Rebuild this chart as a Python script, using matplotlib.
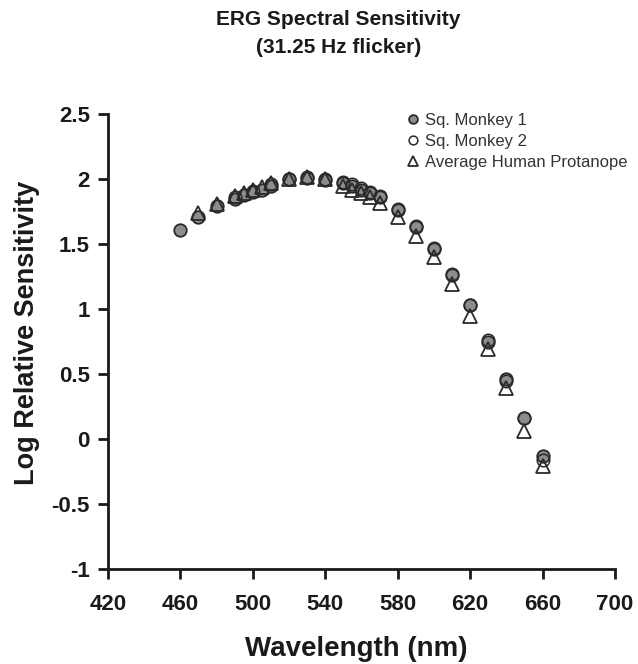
import matplotlib
matplotlib.use("Agg")
import matplotlib.pyplot as plt

plt.rcParams['font.family'] = ['Liberation Sans', 'DejaVu Sans']

# wavelengths (nm) and log relative sensitivity
wl_m1 = [460, 470, 480, 490, 495, 500, 505, 510, 520, 530, 540, 550, 555, 560,
         565, 570, 580, 590, 600, 610, 620, 630, 640, 650, 660]
sens_m1 = [1.61, 1.71, 1.79, 1.85, 1.88, 1.90, 1.92, 1.95, 2.00, 2.01, 1.99, 1.97,
           1.95, 1.92, 1.89, 1.86, 1.76, 1.63, 1.46, 1.26, 1.03, 0.75, 0.46, 0.16, -0.13]

wl_m2 = [490, 500, 510, 520, 530, 540, 550, 555, 560, 565, 570, 580, 590, 600,
         610, 620, 630, 640, 650, 660]
sens_m2 = [1.86, 1.91, 1.96, 2.00, 2.02, 2.00, 1.98, 1.96, 1.93, 1.90, 1.87, 1.77,
           1.64, 1.47, 1.27, 1.03, 0.76, 0.45, 0.16, -0.16]

wl_hp = [470, 480, 490, 495, 500, 505, 510, 520, 530, 540, 550, 555, 560, 565,
         570, 580, 590, 600, 610, 620, 630, 640, 650, 660]
sens_hp = [1.74, 1.81, 1.87, 1.89, 1.92, 1.94, 1.97, 2.00, 2.02, 2.00, 1.95, 1.92,
           1.89, 1.86, 1.82, 1.71, 1.56, 1.40, 1.19, 0.95, 0.69, 0.39, 0.06, -0.21]

fig = plt.figure(figsize=(6.38, 6.64), dpi=100)
ax = fig.add_axes([0.169, 0.143, 0.795, 0.685])

edge = '#2a2a2a'
ax.plot(wl_m1, sens_m1, linestyle='none', marker='o', ms=9, mfc='#8c8c8c',
        mec=edge, mew=1.3, label='Sq. Monkey 1', zorder=3)
ax.plot(wl_m2, sens_m2, linestyle='none', marker='o', ms=9, mfc='none',
        mec=edge, mew=1.1, label='Sq. Monkey 2', zorder=4)
ax.plot(wl_hp, sens_hp, linestyle='none', marker='^', ms=9.5, mfc='none',
        mec=edge, mew=1.3, label='Average Human Protanope', zorder=5)

ax.set_xlim(420, 700)
ax.set_ylim(-1, 2.5)
ax.set_xticks(range(420, 701, 40))
ax.set_yticks([-1, -0.5, 0, 0.5, 1, 1.5, 2, 2.5])
ax.set_yticklabels(['-1', '-0.5', '0', '0.5', '1', '1.5', '2', '2.5'])

for s in ['top', 'right']:
    ax.spines[s].set_visible(False)
for s in ['left', 'bottom']:
    ax.spines[s].set_linewidth(2)
    ax.spines[s].set_color('#1a1a1a')
ax.tick_params(width=2, length=7, color='#1a1a1a', labelsize=16)
ax.tick_params(axis='x', pad=11)
ax.tick_params(axis='y', pad=6)
for lab in ax.get_xticklabels() + ax.get_yticklabels():
    lab.set_fontweight('bold')
    lab.set_color('#1a1a1a')

ax.set_xlabel('Wavelength (nm)', fontsize=20, fontweight='bold', color='#1a1a1a', va='center')
ax.set_ylabel('Log Relative Sensitivity', fontsize=19.5, fontweight='bold', color='#1a1a1a', va='center')
ax.xaxis.set_label_coords(0.49, -0.176)
ax.yaxis.set_label_coords(-0.16, 0.52)

fig.text(0.53, 0.985, 'ERG Spectral Sensitivity\n(31.25 Hz flicker)', ha='center', va='top',
         fontsize=15, fontweight='bold', color='#1a1a1a', linespacing=1.6)

leg = ax.legend(loc='upper left', bbox_to_anchor=(0.562, 1.035), frameon=False, fontsize=12,
                handlelength=0.6, handletextpad=0.4, labelspacing=0.35, markerscale=0.7)
for t in leg.get_texts():
    t.set_color('#333333')

fig.savefig('out.png', dpi=100)
